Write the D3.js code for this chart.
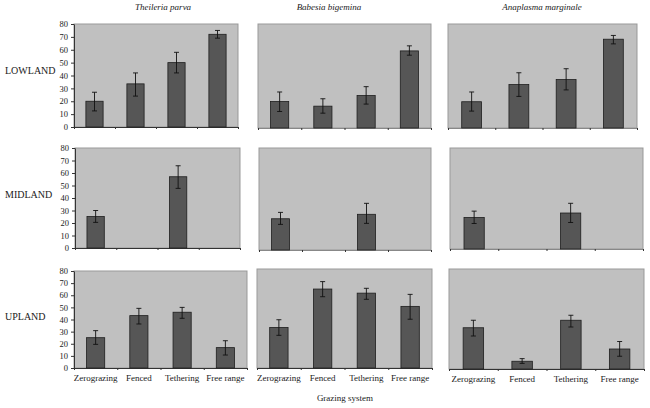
<!DOCTYPE html>
<html><head><meta charset="utf-8">
<script src="https://cdn.jsdelivr.net/npm/d3@7/dist/d3.min.js"></script>
<style>body{margin:0;background:#fff}svg{display:block}text{font-family:"Liberation Serif","DejaVu Serif",serif;fill:#1a1a1a}</style>
</head><body>
<svg id="c" width="650" height="408"></svg>
<script>
const categories = ["Zerograzing", "Fenced", "Tethering", "Free range"];
const parasites = ["Theileria parva", "Babesia bigemina", "Anaplasma marginale"];
const zones = ["LOWLAND", "MIDLAND", "UPLAND"];
const yTicks = [0, 10, 20, 30, 40, 50, 60, 70, 80];

// values [zone][parasite][category], with lower / upper error limits
const lowlandValues = [[20, 33.5, 50, 72], [20.4, 16.8, 25, 59.3], [20.2, 33.4, 37.3, 68.3]];
const lowlandLow    = [[12.5, 24, 42, 69], [12.7, 11.4, 18.4, 56], [13, 24.3, 29.3, 64.7]];
const lowlandHigh   = [[27, 42, 58, 75], [27.7, 22.5, 31.8, 63.2], [27.7, 42.5, 45.6, 71.2]];

const midlandValues = [[25.2, 0, 57, 0], [24.5, 0, 28, 0], [25, 0, 28.5, 0]];
const midlandLow    = [[20.5, null, 47.7, null], [20.1, null, 20.9, null], [20.2, null, 21, null]];
const midlandHigh   = [[30, null, 65.8, null], [29.5, null, 36.6, null], [30, null, 36.2, null]];

const uplandValues = [[25, 43.2, 46, 16.8], [32.8, 63.8, 60.5, 49.8], [33, 6.2, 39, 16]];
const uplandLow    = [[19.5, 36.3, 41, 10.7], [26.4, 57.6, 55.5, 39.4], [26.4, 4.5, 33.6, 10.2]];
const uplandHigh   = [[30.8, 49.2, 50, 22.5], [39, 69.8, 64.4, 59.5], [39, 8.3, 43, 22]];

const xTitle = "Grazing system";

const values = [lowlandValues, midlandValues, uplandValues];
const lows = [lowlandLow, midlandLow, uplandLow];
const highs = [lowlandHigh, midlandHigh, uplandHigh];

// layout: plot rectangles [x0, y0, x1, y1] per row/column
const layout = [
  [[74, 24, 238, 127], [258, 24, 431, 128], [448, 24, 637, 128]],
  [[75, 148, 240, 248], [259, 148, 431, 250], [450, 148, 643, 249]],
  [[74, 271, 247, 368], [257, 269, 432, 368], [449, 269, 644, 369]]
];
const rowLabelY = [72, 196, 318];
const titleX = [163, 329, 542];

const svg = d3.select("#c");

parasites.forEach((p, j) => {
  svg.append("text").attr("x", titleX[j]).attr("y", 10).attr("text-anchor", "middle")
    .attr("font-size", 9).attr("font-style", "italic").text(p);
});
zones.forEach((z, i) => {
  svg.append("text").attr("x", 5).attr("y", rowLabelY[i]).attr("dominant-baseline", "middle")
    .attr("font-size", 10).attr("textLength", null).text(z);
});

zones.forEach((z, i) => {
  parasites.forEach((p, j) => {
    const [x0, y0, x1, y1] = layout[i][j];
    const g = svg.append("g");
    const x = d3.scaleBand().domain(categories).range([x0, x1]).padding(0);
    const y = d3.scaleLinear().domain([0, 80]).range([y1, y0]);
    const xb = d3.scaleLinear().domain([0, 4]).range([x0, x1]);

    g.append("rect").attr("x", x0).attr("y", y0).attr("width", x1 - x0).attr("height", y1 - y0)
      .attr("fill", "#c0c0c0").attr("stroke", "#999").attr("stroke-width", 1);

    // bottom axis with boundary ticks
    const bx = g.append("g").attr("transform", `translate(0,${y1})`)
      .call(d3.axisBottom(xb).tickValues([0, 1, 2, 3, 4]).tickSize(2).tickSizeOuter(0).tickFormat(""));
    bx.select(".domain").attr("stroke", j === 0 || i === 2 ? "#333" : "#888");
    bx.selectAll(".tick line").attr("stroke", "#333");

    const bw = x.bandwidth() * 0.42;
    categories.forEach((c, k) => {
      const v = values[i][j][k];
      const cx = x(c) + x.bandwidth() / 2;
      g.append("rect").attr("x", cx - bw / 2).attr("y", y(v)).attr("width", bw)
        .attr("height", y(0) - y(v)).attr("fill", "#565656").attr("stroke", "#1e1e1e").attr("stroke-width", 0.8);
      const lo = lows[i][j][k], hi = highs[i][j][k];
      if (lo != null) {
        g.append("line").attr("x1", cx).attr("x2", cx).attr("y1", y(lo)).attr("y2", y(hi))
          .attr("stroke", "#111").attr("stroke-width", 0.9);
        [lo, hi].forEach(e => g.append("line").attr("x1", cx - 2.5).attr("x2", cx + 2.5)
          .attr("y1", y(e)).attr("y2", y(e)).attr("stroke", "#111").attr("stroke-width", 0.9));
      }
    });

    if (i === 2) {
      const lab = g.append("g").attr("transform", `translate(0,${y1})`)
        .call(d3.axisBottom(x).tickSize(0).tickPadding(7));
      lab.select(".domain").remove();
      lab.selectAll("text").attr("font-size", 9).attr("font-family", '"Liberation Serif",serif').attr("fill", "#1a1a1a");
    }
    if (j === 0) {
      const ya = g.append("g").attr("transform", `translate(${x0},0)`)
        .call(d3.axisLeft(y).tickValues(yTicks).tickSize(3).tickSizeOuter(0).tickPadding(3));
      ya.select(".domain").attr("stroke", "#333");
      ya.selectAll(".tick line").attr("stroke", "#333");
      ya.selectAll("text").attr("font-size", 8.5).attr("font-family", '"Liberation Serif",serif').attr("fill", "#1a1a1a");
    }
  });
});

svg.append("text").attr("x", 345).attr("y", 399).attr("text-anchor", "middle")
  .attr("dominant-baseline", "middle").attr("font-size", 9).text(xTitle);
</script>
</body></html>
